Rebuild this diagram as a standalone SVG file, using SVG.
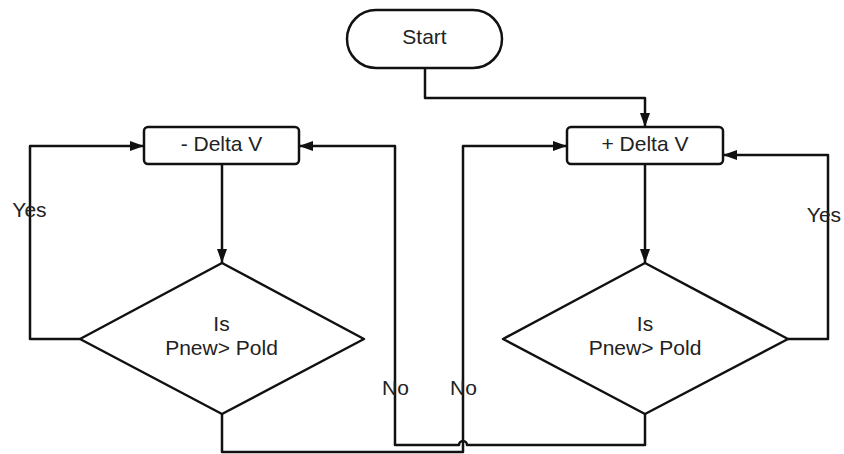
<svg xmlns="http://www.w3.org/2000/svg" width="844" height="454" viewBox="0 0 844 454">
<style>
.shape{fill:#fff;stroke:#111;stroke-width:2.5;stroke-linejoin:round}
.conn{fill:none;stroke:#111;stroke-width:2.5;stroke-linejoin:round}
text{font-family:"Liberation Sans",Arial,sans-serif;font-size:21px;fill:#222;text-anchor:middle}
</style>
<defs>
<marker id="arr" viewBox="0 0 14 10" refX="14" refY="5" markerWidth="14" markerHeight="10" markerUnits="userSpaceOnUse" orient="auto">
<path d="M0,0 L14,5 L0,10 Z" fill="#111"/>
</marker>
</defs>
<rect width="844" height="454" fill="#fff"/>
<g id="connectors">
<path class="conn" d="M425,68 V98 H645 V127" marker-end="url(#arr)"/>
<path class="conn" d="M222,164 V263" marker-end="url(#arr)"/>
<path class="conn" d="M645,164 V263" marker-end="url(#arr)"/>
<path class="conn" d="M80,339 H30 V146 H144" marker-end="url(#arr)"/>
<path class="conn" d="M788,339 H828 V155 H723" marker-end="url(#arr)"/>
<path class="conn" d="M222,414 V452 H463 V146 H567" marker-end="url(#arr)"/>
<path class="conn" d="M645,414 V445 H467 A4,4 0 0 0 459,445 H395 V146 H299" marker-end="url(#arr)"/>
</g>
<g id="start">
<rect class="shape" x="347" y="10" width="155" height="58" rx="29"/>
<text x="424.5" y="44">Start</text>
</g>
<g id="minus-delta">
<rect class="shape" x="144" y="127" width="155" height="37" rx="4"/>
<text x="221.5" y="151">- Delta V</text>
</g>
<g id="plus-delta">
<rect class="shape" x="567" y="127" width="156" height="37" rx="4"/>
<text x="645" y="151">+ Delta V</text>
</g>
<g id="decision-left">
<path class="shape" d="M222,263 L364,339 L222,414 L80,339 Z"/>
<text x="221.5" y="331">Is</text>
<text x="221.5" y="355">Pnew&gt; Pold</text>
</g>
<g id="decision-right">
<path class="shape" d="M645,263 L788,339 L645,414 L503,339 Z"/>
<text x="645" y="331">Is</text>
<text x="645" y="355">Pnew&gt; Pold</text>
</g>
<g id="labels">
<text x="29.5" y="217">Yes</text>
<text x="824" y="222">Yes</text>
<text x="395.5" y="395">No</text>
<text x="463.5" y="395">No</text>
</g>
</svg>
